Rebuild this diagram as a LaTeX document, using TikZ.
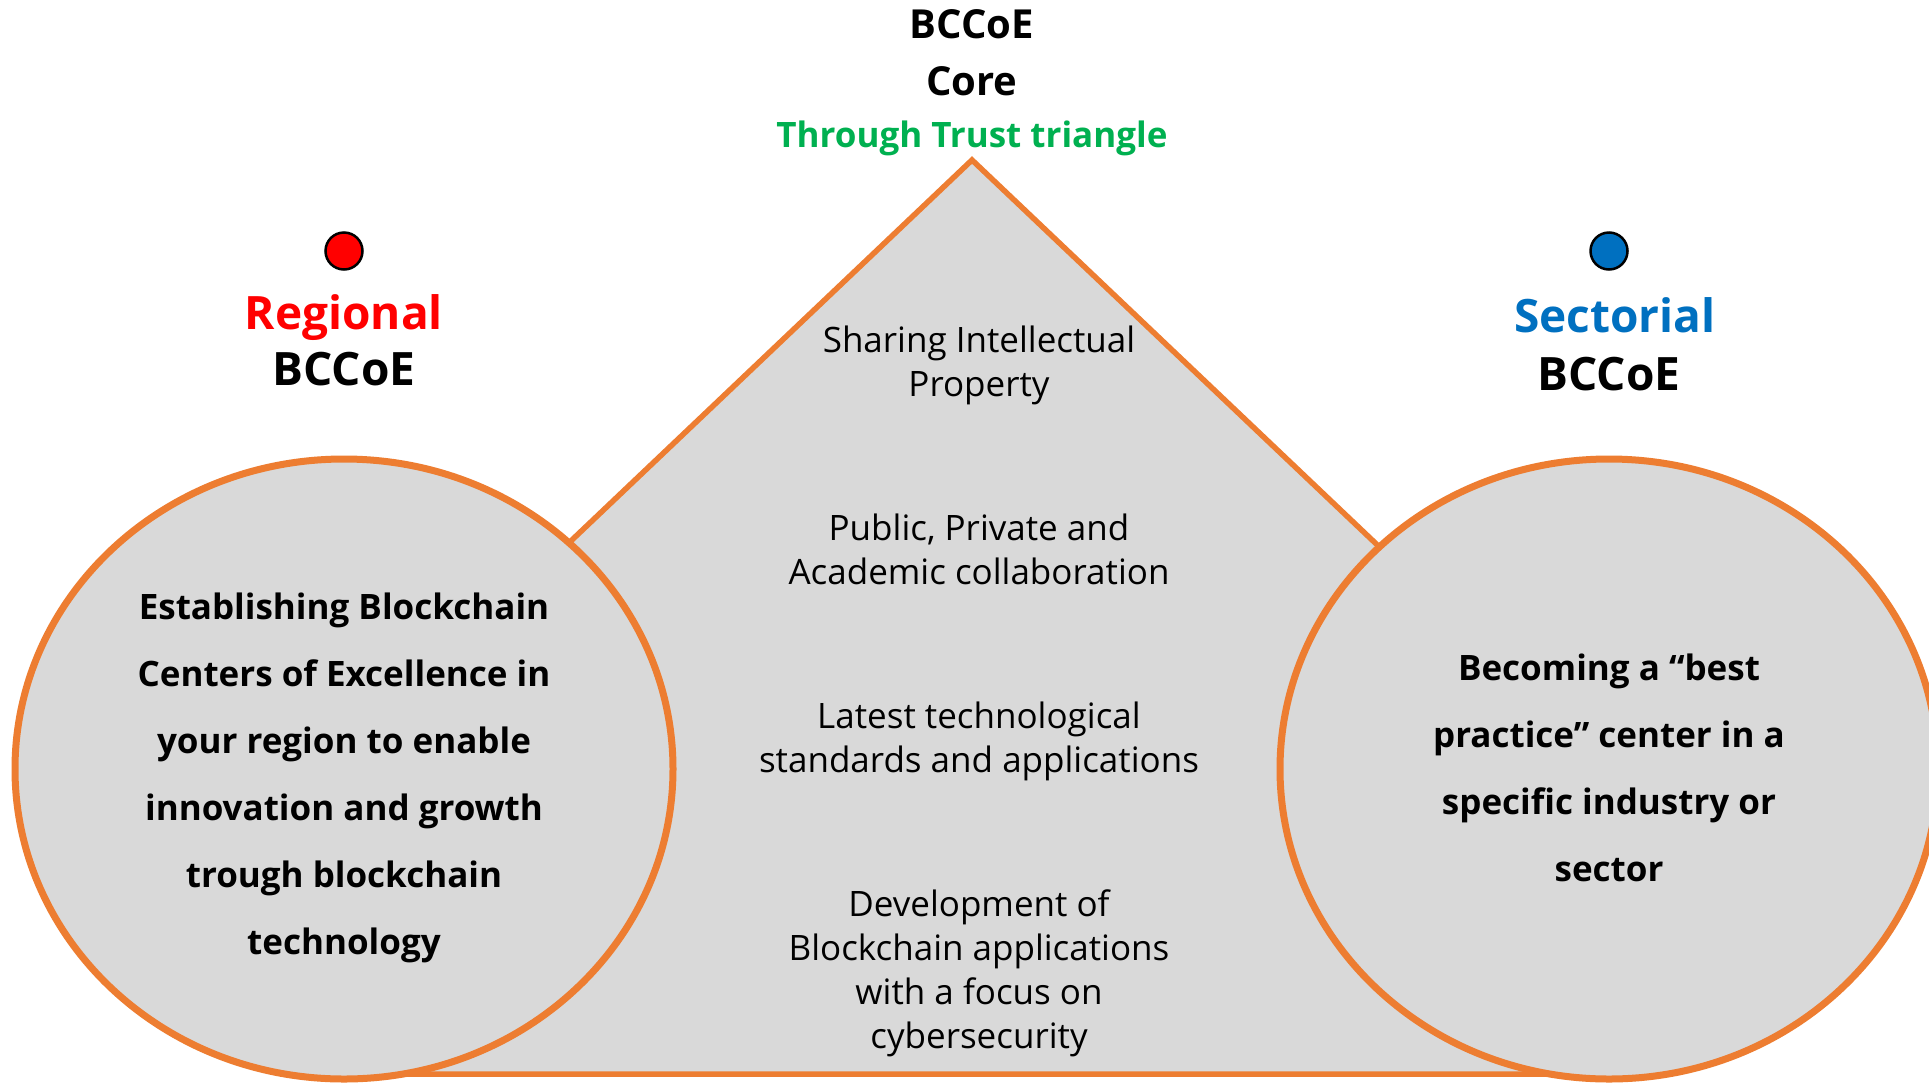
\documentclass[tikz,border=0pt]{standalone}
\usepackage{fontspec}
\setmainfont{Open Sans}
\definecolor{orng}{HTML}{ED7D31}
\definecolor{gfill}{HTML}{D9D9D9}
\definecolor{tgreen}{HTML}{00B050}
\definecolor{tred}{HTML}{FF0000}
\definecolor{tblue}{HTML}{0070C0}
\tikzset{
  shapeline/.style={draw=orng, fill=gfill, line width=7pt},
  bigtitle/.style={font=\bfseries\fontsize{46}{54}\selectfont, align=center, inner sep=0pt},
  toptitle/.style={font=\bfseries\fontsize{40}{48}\selectfont, align=center, inner sep=0pt},
  circtext/.style={font=\bfseries\fontsize{35}{67}\selectfont, align=center, inner sep=0pt},
  tritext/.style={font=\fontsize{35}{44}\selectfont, align=center, inner sep=0pt},
  dot/.style={circle, draw=black, line width=2.5pt, minimum size=37pt, inner sep=0pt}
}
\begin{document}
\begin{tikzpicture}[x=1pt,y=-1pt]
\useasboundingbox (0,0) rectangle (1929,1082);
\fill[white] (0,0) rectangle (1929,1082);
\begin{scope}
\clip (0,0) rectangle (1929,1082);
% triangle (lower corners hidden behind the ellipses)
\draw[shapeline, line width=5.5pt, line join=miter] (972,160) -- (1410,576) -- (1609,1074) -- (344,1074) -- (534,576) -- cycle;
% ellipses
\draw[shapeline] (344,769) ellipse [x radius=329, y radius=310];
\draw[shapeline] (1609,769) ellipse [x radius=329, y radius=310];
\end{scope}
% top titles
\node[toptitle] (core1) at (972,24) {BCCoE};
\node[toptitle] (core2) at (972,81) {Core};
\node[toptitle, font=\bfseries\fontsize{35}{42}\selectfont, text=tgreen] (trust) at (972,138) {Through Trust triangle};
% regional
\node[dot, fill=tred] (rdot) at (344,251) {};
\node[bigtitle, text=tred] (reg) at (344,318) {Regional};
\node[bigtitle] (reg2) at (344,369) {BCCoE};
% sectorial
\node[dot, fill=tblue] (sdot) at (1609,251) {};
\node[bigtitle, text=tblue] (sec) at (1615,315) {Sectorial};
\node[bigtitle] (sec2) at (1609,374) {BCCoE};
% circle texts
\node[circtext] (ltext) at (344,778) {Establishing Blockchain\\Centers of Excellence in\\your region to enable\\innovation and growth\\trough blockchain\\technology};
\node[circtext] (rtext) at (1609,768) {Becoming a “best\\practice” center in a\\specific industry or\\sector};
% triangle texts
\node[tritext] (t1) at (979,365) {Sharing Intellectual\\Property};
\node[tritext] (t2) at (979,549) {Public, Private and\\Academic collaboration};
\node[tritext] (t3) at (979,741) {Latest technological\\standards and applications};
\node[tritext] (t4) at (979,973) {Development of\\Blockchain applications\\with a focus on\\cybersecurity};
\end{tikzpicture}
\end{document}
